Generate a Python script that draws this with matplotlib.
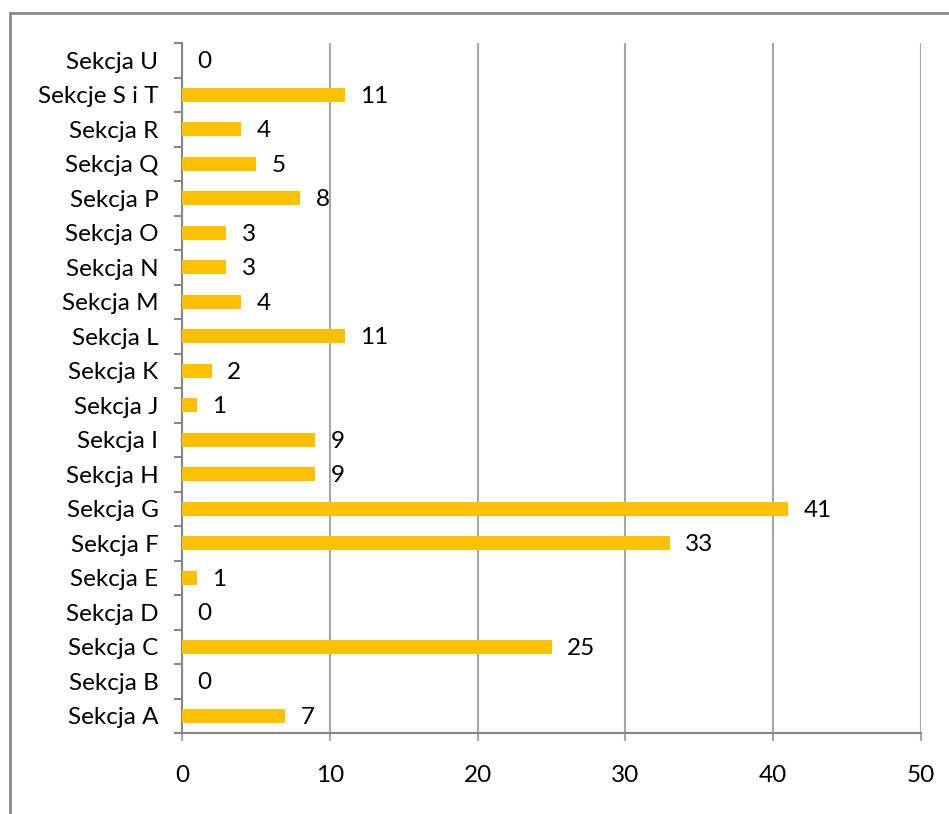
import matplotlib.pyplot as plt
from matplotlib.patches import Rectangle
import numpy as np

plt.rcParams['font.family'] = ['Lato', 'DejaVu Sans']

# categories bottom -> top
sections = ["Sekcja A", "Sekcja B", "Sekcja C", "Sekcja D", "Sekcja E",
            "Sekcja F", "Sekcja G", "Sekcja H", "Sekcja I", "Sekcja J",
            "Sekcja K", "Sekcja L", "Sekcja M", "Sekcja N", "Sekcja O",
            "Sekcja P", "Sekcja Q", "Sekcja R", "Sekcje S i T", "Sekcja U"]
counts = [7, 0, 25, 0, 1, 33, 41, 9, 9, 1, 2, 11, 4, 3, 3, 8, 5, 4, 11, 0]
x_ticks = [0, 10, 20, 30, 40, 50]

grid_col = "#A6A6A6"
bar_col = "#FFC000"
fs = 17.5

fig = plt.figure(figsize=(9.49, 8.14), dpi=100)
ax = fig.add_axes([182 / 949, 1 - 733 / 814, (921 - 182) / 949, (733 - 43) / 814])

# outer chart frame (cropped on right and bottom)
fig.patches.append(Rectangle((10 / 949, -0.05), 1.2, 1 - 13 / 814 + 0.05,
                             transform=fig.transFigure, fill=False,
                             edgecolor="#868686", lw=2))

y = np.arange(len(sections))
ax.barh(y, counts, height=0.4, color=bar_col, zorder=3)

for yi, v in zip(y, counts):
    ax.annotate(str(v), (v, yi), xytext=(11, -1), textcoords="offset points",
                ha="left", va="center", fontsize=fs, color="black")

ax.set_xlim(0, 50)
ax.set_ylim(-0.5, len(sections) - 0.5)
ax.set_xticks(x_ticks)
ax.set_xticklabels([str(t) for t in x_ticks])
ax.set_yticks(y)
ax.set_yticklabels(sections)
ax.set_yticks(np.arange(-0.5, len(sections)), minor=True)

ax.grid(axis="x", color=grid_col, lw=1.5, zorder=0)
for s in ["top", "right"]:
    ax.spines[s].set_visible(False)
for s in ["left", "bottom"]:
    ax.spines[s].set_color("#868686")
    ax.spines[s].set_linewidth(1.5)

ax.tick_params(axis="y", which="major", length=0, pad=17, labelsize=fs)
ax.tick_params(axis="y", which="minor", length=6, color="#868686", width=1.5)
ax.tick_params(axis="x", length=6, color=grid_col, width=1.5, pad=17, labelsize=fs)

fig.savefig("out.png", dpi=100)
